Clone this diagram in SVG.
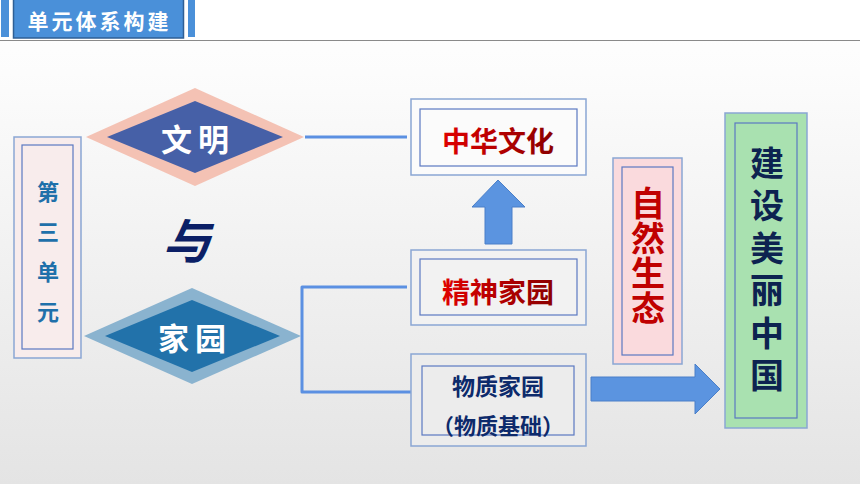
<svg xmlns="http://www.w3.org/2000/svg" width="860" height="484" viewBox="0 0 860 484">
<defs>
<linearGradient id="bg" x1="0" y1="0" x2="0" y2="1">
<stop offset="0" stop-color="#ffffff"/>
<stop offset="0.15" stop-color="#fcfcfc"/>
<stop offset="1" stop-color="#e4e4e4"/>
</linearGradient>
<linearGradient id="red" x1="0" y1="0" x2="1" y2="0">
<stop offset="0" stop-color="#e00000"/>
<stop offset="1" stop-color="#8a0000"/>
</linearGradient>
<style>
.cjk{font-family:"Noto Sans CJK SC","Noto Sans",sans-serif;font-weight:bold;text-anchor:middle;dominant-baseline:central}
.vert{font-family:"Noto Sans CJK SC","Noto Sans",sans-serif;font-weight:bold;writing-mode:vertical-rl;text-anchor:start}
.ob{stroke:#8aa6d4;stroke-width:1.5}
.ib{fill:none;stroke:#5b79c2;stroke-width:1.2}
.con{fill:none;stroke:#5b90e2;stroke-width:3;stroke-linejoin:round}
.arrow{fill:#5b94e0;stroke:#4a7fc8;stroke-width:1}
</style>
</defs>
<rect x="0" y="0" width="860" height="484" fill="url(#bg)"/>
<rect x="0" y="0" width="860" height="40" fill="#ffffff"/>
<g id="header">
<rect x="1" y="0" width="8" height="37" fill="#4a90d9"/>
<rect x="188" y="0" width="7" height="37" fill="#4a90d9"/>
<rect x="13.5" y="-1" width="170" height="39" fill="#4a90d9" stroke="#2f5f95" stroke-width="1.5"/>
<text x="98" y="20" class="cjk" font-size="21" fill="#ffffff" letter-spacing="3" dx="1.5">单元体系构建</text>
<line x1="0" y1="40.5" x2="860" y2="40.5" stroke="#8a8a8a" stroke-width="1.2"/>
</g>
<g id="connectors">
<line x1="305" y1="137" x2="407" y2="137" class="con"/>
<path d="M407 287 H302 V392 H411" class="con"/>
<path d="M485 244 V207 H472 L498 180 L525 207 H512 V244 Z" class="arrow"/>
<path d="M591 377 H695 V364 L720 389 L695 414 V401 H591 Z" class="arrow"/>
</g>
<g id="unit3">
<rect x="14" y="137" width="67" height="221" fill="#f8ecec" class="ob"/>
<rect x="22" y="145" width="51" height="204" fill="#f7f5f5" class="ib"/>
<text x="48" y="181" class="vert" font-size="22" fill="#1f70aa" letter-spacing="18">第三单元</text>
</g>
<g id="wenming">
<polygon points="86,137 195,88 304,137 195,186" fill="#f4c2b4"/>
<polygon points="107,137 195,101 283,137 195,173" fill="#4660a7"/>
<text x="195" y="137" class="cjk" font-size="31" fill="#ffffff" letter-spacing="6" dx="3">文明</text>
</g>
<text x="192" y="238" class="cjk" font-size="48" fill="#0b1f66" transform="translate(192,238) skewX(-15) translate(-192,-238)">与</text>
<g id="jiayuan">
<polygon points="84,336 192,288 301,336 192,384" fill="#8ab3cf"/>
<polygon points="105,336 192,300 280,336 192,372" fill="#2272aa"/>
<text x="192" y="336" class="cjk" font-size="31" fill="#ffffff" letter-spacing="6" dx="3">家园</text>
</g>
<g id="zhonghua">
<rect x="411" y="99" width="175" height="76" fill="#fbfbfb" class="ob"/>
<rect x="420" y="109" width="157" height="57" class="ib"/>
<text x="498" y="140" class="cjk" font-size="28" fill="url(#red)">中华文化</text>
</g>
<g id="jingshen">
<rect x="411" y="250" width="175" height="75" fill="#f2f2f2" class="ob"/>
<rect x="420" y="259" width="157" height="56" class="ib"/>
<text x="498" y="291" class="cjk" font-size="28" fill="url(#red)">精神家园</text>
</g>
<g id="wuzhi">
<rect x="411" y="354" width="175" height="92" fill="#ececec" class="ob"/>
<rect x="422" y="366" width="152" height="69" class="ib"/>
<text x="498" y="385" class="cjk" font-size="23" fill="#0d2a6b">物质家园</text>
<text x="498" y="424" class="cjk" font-size="22" fill="#0d2a6b">（物质基础）</text>
</g>
<g id="ziran">
<rect x="613" y="158" width="69" height="206" fill="#fadadd" class="ob"/>
<rect x="622" y="167" width="51" height="188" fill="#f3f3f3" class="ib"/>
<text x="648" y="186" class="vert" font-size="34" fill="#c00000" letter-spacing="1">自然生态</text>
</g>
<g id="jianshe">
<rect x="725" y="113" width="82" height="315" fill="#a9e1b0" class="ob"/>
<rect x="735" y="123" width="62" height="295" fill="#efefef" class="ib"/>
<text x="767" y="146" class="vert" font-size="34" fill="#0d2350" letter-spacing="8.4">建设美丽中国</text>
</g>
</svg>
